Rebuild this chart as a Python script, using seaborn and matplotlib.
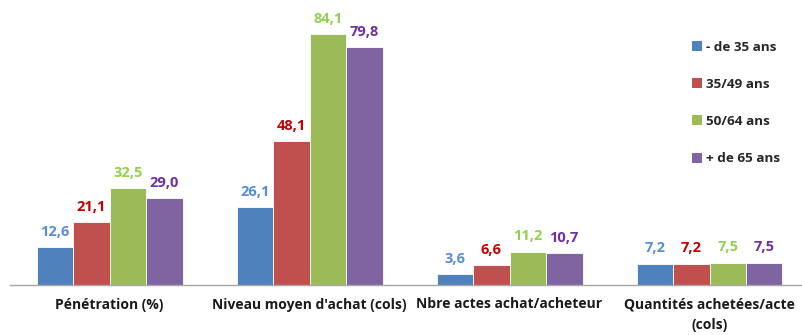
import matplotlib
matplotlib.use("Agg")
import matplotlib.pyplot as plt
import seaborn as sns
import pandas as pd
from matplotlib.patches import Patch

categories = ["Pénétration (%)", "Niveau moyen d'achat (cols)",
              "Nbre actes achat/acheteur", "Quantités achetées/acte\n(cols)"]
groups = ["- de 35 ans", "35/49 ans", "50/64 ans", "+ de 65 ans"]
moins_35 = [12.6, 26.1, 3.6, 7.2]
de_35_49 = [21.1, 48.1, 6.6, 7.2]
de_50_64 = [32.5, 84.1, 11.2, 7.5]
plus_65 = [29.0, 79.8, 10.7, 7.5]

bar_colors = ["#4F81BD", "#C0504D", "#9BBB59", "#8064A2"]
label_colors = ["#558ED5", "#C00000", "#92D050", "#7030A0"]

series = [moins_35, de_35_49, de_50_64, plus_65]
rows = []
for g, vals in zip(groups, series):
    for c, v in zip(categories, vals):
        rows.append({"cat": c, "grp": g, "val": v})
df = pd.DataFrame(rows)

sns.set_style("white")
plt.rcParams["font.family"] = ["Open Sans", "DejaVu Sans"]

fig = plt.figure(figsize=(8.02, 3.35), dpi=100)
ax = fig.add_axes([9.5 / 802, 50 / 335, 800 / 802, 285 / 335])

sns.barplot(data=df, x="cat", y="val", hue="grp", order=categories,
            hue_order=groups, palette=bar_colors, saturation=1, width=0.73,
            gap=0, edgecolor="white", linewidth=0.6, legend=False, ax=ax)

ax.set_ylim(0, 95.5)
ax.set_xlim(-0.5, 3.5)
ax.set_xlabel("")
ax.set_ylabel("")
ax.set_yticks([])
for s in ["top", "right", "left"]:
    ax.spines[s].set_visible(False)
ax.spines["bottom"].set_color("#A6A6A6")
ax.spines["bottom"].set_linewidth(1.0)

ax.set_xticks(range(len(categories)))
ax.set_xticklabels(categories, fontsize=10, fontweight="bold", color="#1a1a1a",
                   linespacing=1.55)
ax.tick_params(axis="x", which="major", length=0, pad=9)
ax.set_xticks([-0.5, 0.5, 1.5, 2.5, 3.5], minor=True)
ax.tick_params(axis="x", which="minor", length=5, width=1, color="#A6A6A6",
               direction="out")

for container, col in zip(ax.containers, label_colors):
    labels = [f"{v:.1f}".replace(".", ",") for v in container.datavalues]
    ax.bar_label(container, labels=labels, padding=6, color=col,
                 fontsize=10.5, fontweight="bold")

handles = [Patch(facecolor=c, edgecolor="none") for c in bar_colors]
leg = ax.legend(handles, groups, loc="upper left",
                bbox_to_anchor=(670 / 800, 0.90), frameon=False,
                prop={"size": 9.7, "weight": "bold"}, handlelength=0.75,
                handleheight=0.75, handletextpad=0.35, labelspacing=1.8)

fig.savefig("out.png", dpi=100)
